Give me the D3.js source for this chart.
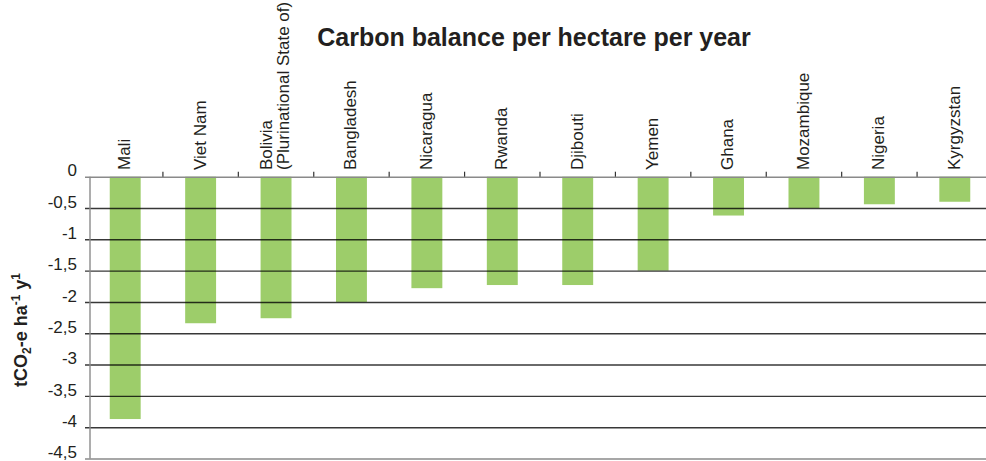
<!DOCTYPE html>
<html>
<head>
<meta charset="utf-8">
<script src="https://cdn.jsdelivr.net/npm/d3@7"></script>
<style>
  body { margin: 0; background: #fff; }
  text { font-family: "Liberation Sans", Arial, sans-serif; fill: #231f20; }
</style>
</head>
<body>
<div id="chart"></div>
<script>
// Countries (Bolivia label split on two lines)
const countries = ["Mali", "Viet Nam", "Bolivia (Plurinational State of)", "Bangladesh", "Nicaragua",
                   "Rwanda", "Djibouti", "Yemen", "Ghana", "Mozambique", "Nigeria", "Kyrgyzstan"];
const labelLines = [["Mali"], ["Viet Nam"], ["Bolivia", "(Plurinational State of)"], ["Bangladesh"], ["Nicaragua"],
                    ["Rwanda"], ["Djibouti"], ["Yemen"], ["Ghana"], ["Mozambique"], ["Nigeria"], ["Kyrgyzstan"]];
// tCO2-e per ha per year
const balance = [-3.87, -2.34, -2.26, -2.0, -1.78, -1.73, -1.73, -1.5, -0.62, -0.5, -0.44, -0.4];
const yTicks = [0, -0.5, -1, -1.5, -2, -2.5, -3, -3.5, -4, -4.5];

const W = 986, H = 461;

const svg = d3.select("#chart").append("svg")
    .attr("width", W)
    .attr("height", H);

// Scales
const x = d3.scaleBand()
    .domain(countries)
    .range([87.5, 992.5])
    .paddingInner(0.59)
    .paddingOuter(0.295);

const xStep = d3.scaleBand().domain(countries).range([87.5, 992.5]).padding(0);

const y = d3.scaleLinear()
    .domain([0, -4.5])
    .range([176.7, 458.5]);

// Bars (drawn first, grid lines go over them)
svg.selectAll(".bar")
   .data(countries)
   .enter()
   .append("rect")
   .attr("class", "bar")
   .attr("x", d => x(d))
   .attr("y", y(0))
   .attr("width", x.bandwidth())
   .attr("height", (d, i) => y(balance[i]) - y(0))
   .attr("fill", "#9dcd6a");

// Y axis with grid lines across the plot
const yAxis = svg.append("g")
   .attr("transform", "translate(85,0)")
   .call(d3.axisLeft(y)
       .tickValues(yTicks)
       .tickSize(-(W - 85))
       .tickPadding(8)
       .tickFormat(d => String(d).replace(".", ",")));

yAxis.select(".domain").remove();
yAxis.selectAll(".tick line")
   .attr("stroke", d => (d === 0 || d === -4.5) ? "#8a8a8a" : "#000")
   .attr("stroke-opacity", d => (d === 0 || d === -4.5) ? 1 : 0.78)
   .attr("stroke-width", 1.4);
yAxis.selectAll(".tick text")
   .attr("dy", "-0.05em")
   .style("font-size", "17px")
   .style("font-family", "'Liberation Sans', Arial, sans-serif")
   .attr("fill", "#231f20");

// Vertical axis line
svg.append("line")
   .attr("x1", 90).attr("x2", 90)
   .attr("y1", y(0)).attr("y2", y(-4.5))
   .attr("stroke", "#8a8a8a")
   .attr("stroke-width", 1.4);

// Category separators on the zero line
svg.selectAll(".sep")
   .data(countries.slice(1))
   .enter()
   .append("line")
   .attr("x1", d => xStep(d)).attr("x2", d => xStep(d))
   .attr("y1", y(0) - 5).attr("y2", y(0))
   .attr("stroke", "#333")
   .attr("stroke-width", 1.2);

// Rotated category labels
const lbl = svg.selectAll(".cat")
   .data(countries)
   .enter()
   .append("text")
   .attr("class", "cat")
   .attr("transform", d => `translate(${x(d) + x.bandwidth() / 2 - 1},170) rotate(-90)`)
   .style("font-size", "17px");

lbl.each(function(d, i) {
    const lines = labelLines[i];
    const t = d3.select(this);
    lines.forEach((s, j) => {
        t.append("tspan")
         .attr("x", 0)
         .attr("y", (j - (lines.length - 1) / 2) * 17)
         .attr("dy", "0.35em")
         .text(s);
    });
});

// Headline
svg.append("text")
   .attr("x", 534)
   .attr("y", 46)
   .attr("text-anchor", "middle")
   .style("font-size", "25px")
   .style("font-weight", "bold")
   .text("Carbon balance per hectare per year");

// Y axis title
const yt = svg.append("text")
   .attr("transform", "translate(27,330) rotate(-90)")
   .attr("text-anchor", "middle")
   .style("font-size", "18px")
   .style("font-weight", "bold");
yt.append("tspan").text("tCO");
yt.append("tspan").attr("dy", 4).style("font-size", "12px").text("2");
yt.append("tspan").attr("dy", -4).text("-e ha");
yt.append("tspan").attr("dy", -7).style("font-size", "12px").text("-1");
yt.append("tspan").attr("dy", 7).text(" y");
yt.append("tspan").attr("dy", -7).style("font-size", "12px").text("1");
</script>
</body>
</html>
